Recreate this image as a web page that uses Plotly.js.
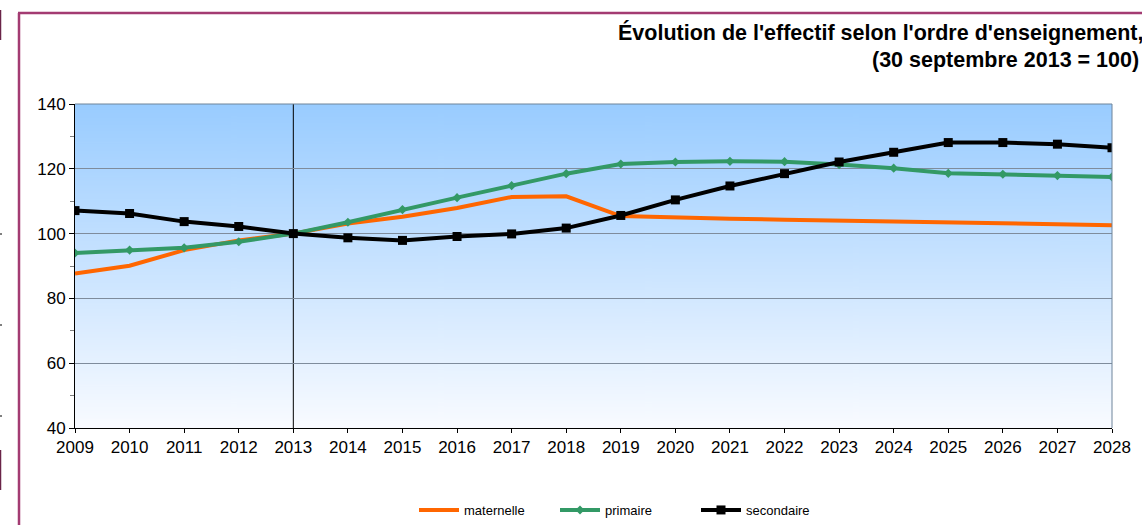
<!DOCTYPE html>
<html>
<head>
<meta charset="utf-8">
<script src="https://cdn.plot.ly/plotly-3.0.1.min.js"></script>
<style>
html,body{margin:0;padding:0;background:#fff;}
#chart{width:1142px;height:525px;}
</style>
</head>
<body>
<div id="chart"></div>
<script>
const years = [2009,2010,2011,2012,2013,2014,2015,2016,2017,2018,2019,2020,2021,2022,2023,2024,2025,2026,2027,2028];
const maternelle = [87.7,90.1,94.9,97.9,100,103.1,105.2,107.9,111.3,111.5,105.4,104.9,104.6,104.3,104.0,103.8,103.5,103.2,103.0,102.6];
const primaire = [94.0,94.9,95.6,97.5,100,103.5,107.4,111.1,114.8,118.5,121.5,122.1,122.3,122.2,121.3,120.2,118.6,118.3,117.9,117.5];
const secondaire = [107.1,106.2,103.7,102.2,100,98.7,97.9,99.1,99.9,101.7,105.6,110.4,114.7,118.5,122.1,125.1,128.1,128.1,127.6,126.5];
const seriesNames = ['maternelle','primaire','secondaire'];
const titleLine1 = "Évolution de l'effectif selon l'ordre d'enseignement,";
const titleLine2 = "(30 septembre 2013 = 100)";
const yTicks = [40,60,80,100,120,140];

// gradient background image
const cv = document.createElement('canvas');
cv.width = 10; cv.height = 400;
const ctx = cv.getContext('2d');
const g = ctx.createLinearGradient(0,0,0,400);
g.addColorStop(0,'#99CCFF');
g.addColorStop(1,'#F9FBFF');
ctx.fillStyle = g; ctx.fillRect(0,0,10,400);
const bgUrl = cv.toDataURL('image/png');

const W = 1142, H = 525, L = 75, R = 30, T = 104, B = 97;
const pw = W - L - R, ph = H - T - B;
const px = x => (x - L) / pw;
const py = y => (H - B - y) / ph;

const font = 'Liberation Sans, Arial, sans-serif';

const traces = [
  {x: years, y: maternelle, name: seriesNames[0], type: 'scatter', mode: 'lines',
   line: {color: '#FF6600', width: 4}},
  {x: years, y: primaire, name: seriesNames[1], type: 'scatter', mode: 'lines+markers',
   line: {color: '#339966', width: 4}, marker: {symbol: 'diamond', size: 7, color: '#339966'}},
  {x: years, y: secondaire, name: seriesNames[2], type: 'scatter', mode: 'lines+markers',
   line: {color: '#000000', width: 4}, marker: {symbol: 'square', size: 9, color: '#000000'}}
];

const frame = '#A33B72';
const layout = {
  width: W, height: H,
  margin: {l: L, r: R, t: T, b: B, pad: 0, autoexpand: false},
  paper_bgcolor: '#ffffff',
  plot_bgcolor: 'rgba(0,0,0,0)',
  showlegend: true,
  legend: {orientation: 'h', x: px(414), xanchor: 'left', y: py(510), yanchor: 'middle',
    font: {family: font, size: 13, color: '#000'}, bgcolor: 'rgba(0,0,0,0)',
    itemwidth: 40, entrywidth: 86, entrywidthmode: 'pixels'},
  xaxis: {range: [2009, 2028], tickmode: 'array', tickvals: years, ticktext: years.map(String),
    showgrid: false, zeroline: false, showline: true, linecolor: '#000', linewidth: 1,
    ticks: 'outside', ticklen: 4, tickcolor: '#000',
    tickfont: {family: font, size: 17, color: '#000'}, fixedrange: true},
  yaxis: {range: [40, 140], tickmode: 'array', tickvals: yTicks,
    showgrid: true, gridcolor: '#7F8C9C', gridwidth: 1, zeroline: false,
    showline: true, linecolor: '#000', linewidth: 1,
    ticks: 'outside', ticklen: 5, tickcolor: '#000',
    minor: {dtick: 10, tick0: 40, ticks: 'outside', ticklen: 4, tickcolor: '#808080', showgrid: false},
    tickfont: {family: font, size: 17, color: '#000'}, fixedrange: true},
  images: [{source: bgUrl, xref: 'paper', yref: 'paper', x: 0, y: 1, sizex: 1, sizey: 1,
    sizing: 'stretch', layer: 'below', xanchor: 'left', yanchor: 'top'}],
  shapes: [
    {type: 'line', xref: 'paper', yref: 'paper', x0: 0, x1: 1, y0: 1, y1: 1, line: {color: '#6F849A', width: 1}},
    {type: 'line', xref: 'paper', yref: 'paper', x0: 1, x1: 1, y0: 0, y1: 1, line: {color: '#6F849A', width: 1}},
    {type: 'line', xref: 'x', yref: 'paper', x0: 2013, x1: 2013, y0: 0, y1: 1, line: {color: '#000', width: 1}, layer: 'below'},
    // outer frame
    {type: 'line', xref: 'paper', yref: 'paper', x0: px(19), x1: px(19), y0: py(13), y1: py(530), line: {color: frame, width: 2.5}},
    {type: 'line', xref: 'paper', yref: 'paper', x0: px(18), x1: px(1150), y0: py(13), y1: py(13), line: {color: frame, width: 2.5}},
    // small marks at far left
    {type: 'line', xref: 'paper', yref: 'paper', x0: px(0.5), x1: px(0.5), y0: py(10), y1: py(40), line: {color: '#6A2448', width: 1.5}},
    {type: 'line', xref: 'paper', yref: 'paper', x0: px(0.5), x1: px(0.5), y0: py(450), y1: py(490), line: {color: '#6A2448', width: 1.5}},
    {type: 'line', xref: 'paper', yref: 'paper', x0: px(0), x1: px(2), y0: py(234), y1: py(234), line: {color: '#000', width: 1}},
    {type: 'line', xref: 'paper', yref: 'paper', x0: px(0), x1: px(2), y0: py(325), y1: py(325), line: {color: '#000', width: 1}},
    {type: 'line', xref: 'paper', yref: 'paper', x0: px(0), x1: px(2), y0: py(416), y1: py(416), line: {color: '#000', width: 1}}
  ],
  annotations: [
    {text: '<b>' + titleLine1 + '</b>', xref: 'paper', yref: 'paper', x: px(1145), y: py(33),
     xanchor: 'right', yanchor: 'middle', showarrow: false, font: {family: font, size: 21.5, color: '#000'}},
    {text: '<b>' + titleLine2 + '</b>', xref: 'paper', yref: 'paper', x: px(1141), y: py(60),
     xanchor: 'right', yanchor: 'middle', showarrow: false, font: {family: font, size: 21.5, color: '#000'}}
  ]
};

Plotly.newPlot('chart', traces, layout, {displayModeBar: false, staticPlot: true});
</script>
</body>
</html>
